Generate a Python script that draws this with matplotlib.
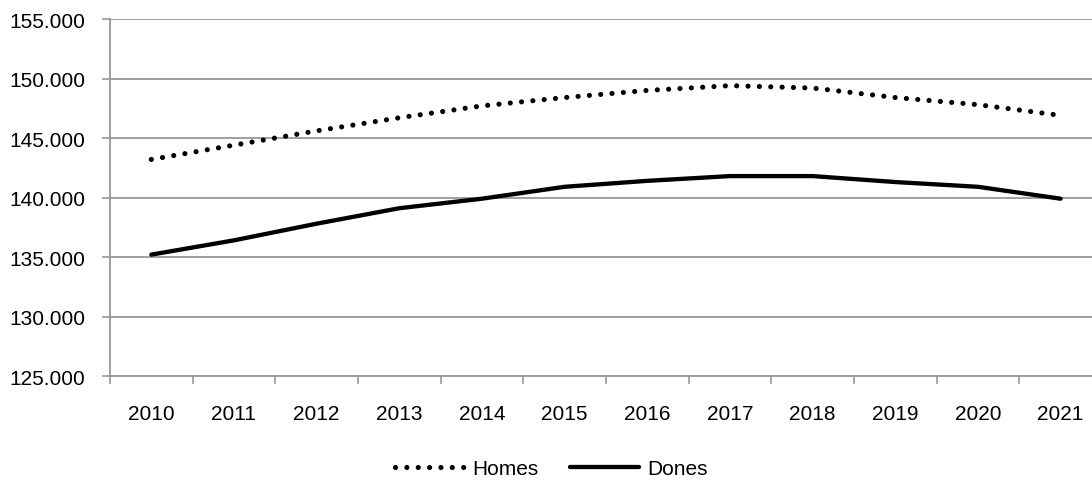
import numpy as np
import matplotlib
matplotlib.use('Agg')
import matplotlib.pyplot as plt
from matplotlib.ticker import FuncFormatter

plt.rcParams['font.family'] = ['Liberation Sans', 'DejaVu Sans']

years = ['2010', '2011', '2012', '2013', '2014', '2015',
         '2016', '2017', '2018', '2019', '2020', '2021']
homes = [143200, 144400, 145600, 146700, 147700, 148400,
         149000, 149400, 149200, 148400, 147800, 146900]
dones = [135200, 136400, 137800, 139100, 139900, 140900,
         141400, 141800, 141800, 141300, 140900, 139900]

grey = '#999999'
fs = 15

fig = plt.figure(figsize=(10.92, 4.81), dpi=100)
ax = fig.add_axes([0.1007, 0.2162, 0.9084, 0.7422])

x = np.arange(len(years))
ax.plot(x, homes, color='black', lw=3.7, linestyle=(0, (0.01, 2.2)),
        dash_capstyle='round', label='Homes')
ax.plot(x, dones, color='black', lw=3.1, solid_capstyle='round', label='Dones')

ax.set_xlim(-0.5, len(years) - 0.5)
ax.set_ylim(125000, 155000)
ax.set_yticks(np.arange(125000, 155001, 5000))
ax.yaxis.set_major_formatter(FuncFormatter(lambda v, p: f'{int(v):,}'.replace(',', '.')))
ax.set_xticks(x)
ax.set_xticklabels(years)
ax.set_xticks(np.arange(-0.5, len(years), 1), minor=True)
ax.tick_params(axis='x', which='major', length=0, pad=20, labelsize=fs)
ax.tick_params(axis='x', which='minor', length=6, width=1.2, color=grey, direction='out')
ax.tick_params(axis='y', length=6, width=1.2, color=grey, direction='out', pad=12, labelsize=fs)

ax.grid(axis='y', color=grey, lw=1.3)
ax.set_axisbelow(True)
for s in ['top', 'right']:
    ax.spines[s].set_visible(False)
for s in ['left', 'bottom']:
    ax.spines[s].set_color(grey)
    ax.spines[s].set_linewidth(1.3)

fig.legend(loc='center', bbox_to_anchor=(0.505, 0.023), ncol=2, frameon=False,
           fontsize=fs, handlelength=3.3, handletextpad=0.4, columnspacing=1.5)

fig.savefig('out.png', dpi=100)
